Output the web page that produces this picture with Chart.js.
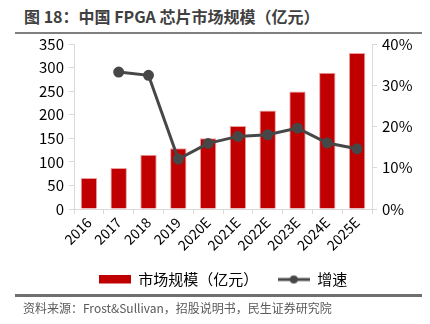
<!DOCTYPE html>
<html>
<head>
<meta charset="utf-8">
<script src="https://cdn.jsdelivr.net/npm/chart.js@4"></script>
<style>
  body { margin: 0; background: #fff; }
  #wrap { position: relative; width: 430px; height: 324px; font-family: "Noto Sans CJK SC", sans-serif; }
  #title { position: absolute; left: 24px; top: 4px; font-size: 16px; font-weight: bold; color: #404040; white-space: nowrap; }
  .rule { position: absolute; left: 15px; width: 407px; background: #7f7f7f; }
  #source { position: absolute; left: 23px; top: 299px; font-size: 12px; color: #595959; white-space: nowrap; }
  #box { position: absolute; left: 0; top: 30px; width: 430px; height: 267px; }
</style>
</head>
<body>
<div id="wrap">
  <div id="title">图 18：中国 FPGA 芯片市场规模（亿元）</div>
  <div class="rule" style="top:32px;height:2px;"></div>
  <div id="box"><canvas id="c"></canvas></div>
  <div class="rule" style="top:294px;height:3px;background:#6f6f6f;"></div>
  <div id="source">资料来源：Frost&amp;Sullivan，招股说明书，民生证券研究院</div>
</div>
<script>
// data
const years = ["2016", "2017", "2018", "2019", "2020E", "2021E", "2022E", "2023E", "2024E", "2025E"];
const marketSize = [66, 87, 115, 129, 150, 176, 209, 249, 289, 331];
const growth = [null, 33.2, 32.4, 12.1, 15.9, 17.6, 18.0, 19.6, 16.0, 14.6];
const leftTicks = [0, 50, 100, 150, 200, 250, 300, 350];
const rightTicks = [0, 10, 20, 30, 40];

const RED = "#c00000";
const GREY = "#474747";
const AXIS = "#d9d9d9";
const FONT = "Noto Sans CJK SC";

// legend icons
function makeIcon(kind) {
  const cv = document.createElement("canvas");
  cv.width = 32;
  cv.height = 10;
  const g = cv.getContext("2d");
  if (kind === "bar") {
    g.fillStyle = RED;
    g.fillRect(0, 0, 32, 9);
  } else {
    g.strokeStyle = GREY;
    g.lineWidth = 3;
    g.beginPath();
    g.moveTo(0, 5);
    g.lineTo(32, 5);
    g.stroke();
    g.fillStyle = GREY;
    g.beginPath();
    g.arc(16, 5, 4, 0, Math.PI * 2);
    g.fill();
  }
  return cv;
}

const barIcon = makeIcon("bar");
const lineIcon = makeIcon("line");

new Chart(document.getElementById("c"), {
  data: {
    labels: years,
    datasets: [
      {
        type: "line",
        label: "增速",
        data: growth,
        yAxisID: "y2",
        borderColor: GREY,
        backgroundColor: GREY,
        borderWidth: 3,
        pointRadius: 4,
        pointHoverRadius: 4,
        tension: 0,
        order: 0,
      },
      {
        type: "bar",
        label: "市场规模（亿元）",
        data: marketSize,
        yAxisID: "y",
        backgroundColor: RED,
        borderColor: "#e8a0a0",
        borderWidth: 1,
        categoryPercentage: 0.55,
        barPercentage: 1,
        order: 1,
      },
    ],
  },
  options: {
    responsive: true,
    maintainAspectRatio: false,
    animation: false,
    layout: { padding: { top: 9, left: 16, right: 0, bottom: 0 } },
    scales: {
      x: {
        grid: { drawOnChartArea: false, offset: true, color: AXIS, tickLength: 5 },
        border: { color: AXIS },
        ticks: {
          color: "#000",
          font: { family: FONT, size: 14 },
          minRotation: 45,
          maxRotation: 45,
          padding: 0,
        },
        afterFit: (s) => { s.height = 51; },
      },
      y: {
        position: "left",
        min: 0,
        max: 350,
        afterBuildTicks: (s) => { s.ticks = leftTicks.map((v) => ({ value: v })); },
        grid: { drawOnChartArea: false, color: AXIS, tickLength: 5 },
        border: { color: AXIS },
        ticks: { color: "#000", font: { family: FONT, size: 15 }, padding: 5 },
        afterFit: (s) => { s.width = 58; },
      },
      y2: {
        position: "right",
        min: 0,
        max: 40,
        afterBuildTicks: (s) => { s.ticks = rightTicks.map((v) => ({ value: v })); },
        grid: { drawOnChartArea: false, color: AXIS, tickLength: 5 },
        border: { color: AXIS },
        ticks: {
          color: "#000",
          font: { family: FONT, size: 15 },
          padding: 5,
          callback: (v) => v + "%",
        },
        afterFit: (s) => { s.width = 58; },
      },
    },
    plugins: {
      tooltip: { enabled: false },
      legend: {
        position: "bottom",
        labels: {
          usePointStyle: true,
          pointStyleWidth: 32,
          padding: 12,
          color: "#000",
          font: { family: FONT, size: 15 },
          generateLabels: () => [
            { text: "市场规模（亿元）\u3000", pointStyle: barIcon, datasetIndex: 1, fontColor: "#000" },
            { text: "增速", pointStyle: lineIcon, datasetIndex: 0, fontColor: "#000" },
          ],
        },
      },
    },
  },
});
</script>
</body>
</html>
